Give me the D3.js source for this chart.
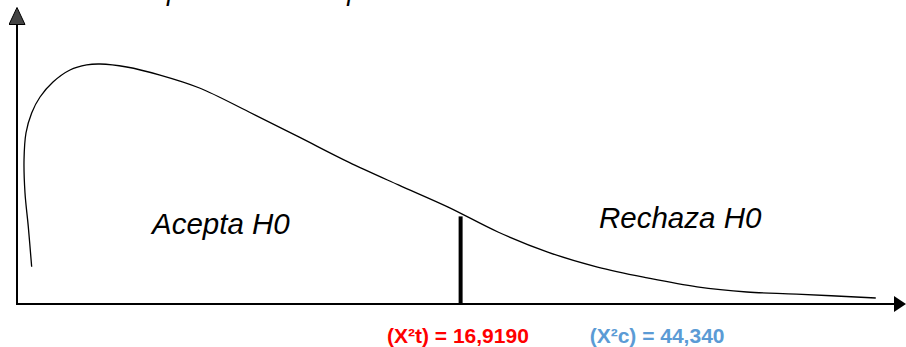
<!DOCTYPE html>
<html>
<head>
<meta charset="utf-8">
<script src="https://cdn.jsdelivr.net/npm/d3@7"></script>
<style>
  body { margin: 0; background: #fff; }
  svg { display: block; }
</style>
</head>
<body>
<svg id="svg"></svg>
<script>
// curva de la distribucion (unidades arbitrarias 0..100)
const curveX = [1.65, 1.27, 0.9, 0.79, 1.01, 1.65, 2.59, 4.05, 5.96, 7.84, 9.34, 12.34, 16.09, 20.53, 26.1, 31.7, 37.3, 42.9, 48.5, 54.1, 59.7, 65.3, 70.9, 76.5, 82.1, 87.7, 96.6];
const curveY = [12.4, 25.8, 37, 48, 57, 63.7, 69, 74, 78, 79.7, 80, 79, 76.3, 72, 64, 55.7, 47.3, 39.7, 32.3, 24, 17.3, 12.3, 8.7, 5.7, 4, 3.3, 2];

const critX = 49.9;
const critTop = 29.2;
const regionLabels = ["Acepta H0", "Rechaza H0"];
const valueLabels = ["(X²t) = 16,9190", "(X²c) = 44,340"];
const valueX = [49.6, 72];
const titleText = "Gráfica de la prueba de independencia";

const width = 906, height = 347;
const svg = d3.select("#svg").attr("width", width).attr("height", height);

const xScale = d3.scaleLinear().domain([0, 100]).range([17, 906]);
const yScale = d3.scaleLinear().domain([0, 100]).range([304, 4]);

const defs = svg.append("defs");
defs.append("marker")
    .attr("id", "arrow")
    .attr("viewBox", "0 0 12 16")
    .attr("refX", 0).attr("refY", 8)
    .attr("markerWidth", 12).attr("markerHeight", 16)
    .attr("markerUnits", "userSpaceOnUse")
    .attr("orient", "auto")
    .append("path")
    .attr("d", "M0,0 L12,8 L0,16 Z")
    .attr("fill", "#000");
defs.append("marker")
    .attr("id", "arrowUp")
    .attr("viewBox", "0 0 18 17")
    .attr("refX", 0).attr("refY", 8.5)
    .attr("markerWidth", 18).attr("markerHeight", 17)
    .attr("markerUnits", "userSpaceOnUse")
    .attr("orient", "auto")
    .append("path")
    .attr("d", "M0.5,0.5 L17.5,8.5 L0.5,16.5 Z")
    .attr("fill", "#444").attr("stroke", "#000").attr("stroke-width", 1);

// titulo (cortado arriba, como en el original)
const title = svg.append("text")
    .attr("y", 0)
    .attr("font-family", "Liberation Sans, Arial, sans-serif")
    .attr("font-style", "italic")
    .attr("font-size", 27)
    .attr("fill", "#000")
    .text(titleText);
const pIdx = titleText.indexOf("p");
const pPos = title.node().getStartPositionOfChar(pIdx).x;
title.attr("x", 169 - pPos - 2);

// ejes
svg.append("line")
    .attr("x1", xScale(0)).attr("x2", xScale(0))
    .attr("y1", yScale(0) + 1).attr("y2", 25)
    .attr("stroke", "#000").attr("stroke-width", 2)
    .attr("marker-end", "url(#arrowUp)");
svg.append("line")
    .attr("x1", xScale(0) - 1).attr("x2", 894)
    .attr("y1", yScale(0)).attr("y2", yScale(0))
    .attr("stroke", "#000").attr("stroke-width", 2)
    .attr("marker-end", "url(#arrow)");

// curva
const pts = curveX.map((x, i) => [x, curveY[i]]);
svg.append("path")
    .datum(pts)
    .attr("fill", "none")
    .attr("stroke", "#000")
    .attr("stroke-width", 1.3)
    .attr("d", d3.line()
        .x(d => xScale(d[0]))
        .y(d => yScale(d[1]))
        .curve(d3.curveCatmullRom.alpha(0.5)));

// valor critico
svg.append("line")
    .attr("x1", xScale(critX)).attr("x2", xScale(critX))
    .attr("y1", yScale(critTop)).attr("y2", yScale(0))
    .attr("stroke", "#000").attr("stroke-width", 4);

// regiones
svg.append("text")
    .attr("x", 152).attr("y", 234)
    .attr("font-family", "Liberation Sans, Arial, sans-serif")
    .attr("font-style", "italic").attr("font-size", 29.5)
    .text(regionLabels[0]);
svg.append("text")
    .attr("x", 599).attr("y", 228)
    .attr("font-family", "Liberation Sans, Arial, sans-serif")
    .attr("font-style", "italic").attr("font-size", 29.5)
    .text(regionLabels[1]);

// valores
const colors = ["#ff0000", "#5b9bd5"];
svg.selectAll("text.val")
    .data(valueLabels)
    .join("text")
    .attr("class", "val")
    .attr("x", (d, i) => xScale(valueX[i]))
    .attr("y", 343)
    .attr("text-anchor", "middle")
    .attr("font-family", "Liberation Sans, Arial, sans-serif")
    .attr("font-weight", "bold")
    .attr("font-size", 21)
    .attr("fill", (d, i) => colors[i])
    .text(d => d);
</script>
</body>
</html>
